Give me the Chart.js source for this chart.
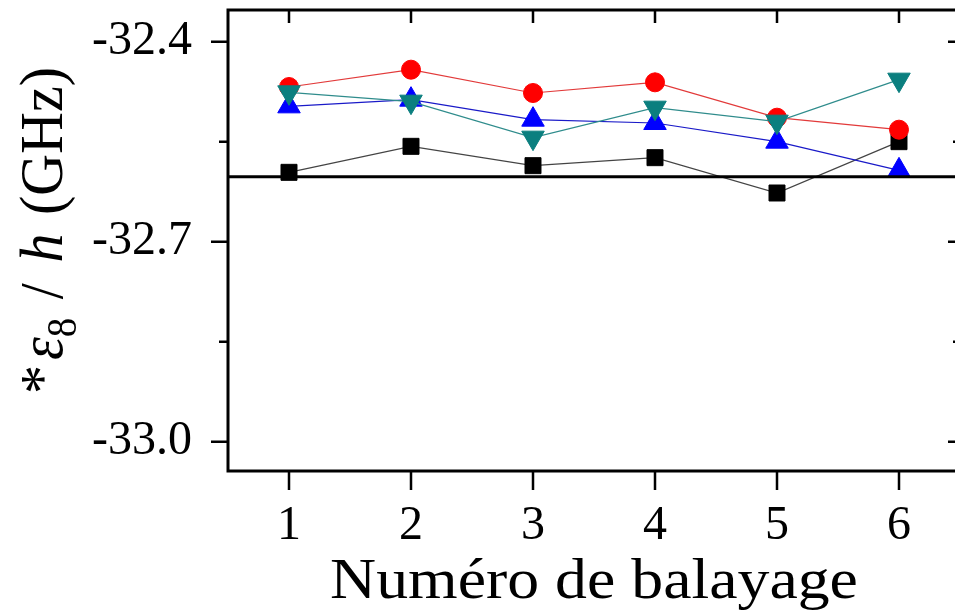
<!DOCTYPE html>
<html>
<head>
<meta charset="utf-8">
<script src="https://cdn.jsdelivr.net/npm/chart.js@4.4.1/dist/chart.umd.min.js"></script>
<style>
html, body { margin: 0; padding: 0; background: #fff; overflow: hidden; }
#wrap { position: relative; width: 970px; height: 614px; }
</style>
</head>
<body>
<div id="wrap"><canvas id="chart"></canvas></div>
<script>
// data
const scanNumbers = [1, 2, 3, 4, 5, 6];
const xTickLabels = ['1', '2', '3', '4', '5', '6'];
const seriesSquare = [-32.596, -32.557, -32.586, -32.574, -32.627, -32.550];
const seriesCircle = [-32.468, -32.442, -32.477, -32.461, -32.514, -32.532];
const seriesUp = [-32.497, -32.487, -32.517, -32.522, -32.550, -32.593];
const seriesDown = [-32.476, -32.490, -32.544, -32.499, -32.520, -32.457];
const refLevel = -32.6025;
const yMajorTicks = [-32.4, -32.7, -33.0];
const yMinorTicks = [-32.55, -32.85];
const xTitle = 'Numéro de balayage';
const yTitleParts = [['*', 'normal'], ['ε', 'italic'], ['8', 'sub'], [' / ', 'normal'], ['h', 'italic'], [' (GHz)', 'normal']];

const xMin = 0.5, xMax = 6.5;
const yMin = -33.044, yMax = -32.3525;
const FONT = '"Liberation Serif", "Times New Roman", serif';
// extra room after each piece of the y title
const yTitleGaps = [5, 0, 4, 6, 4, 0];

function toPoints(values) {
    return scanNumbers.map((x, i) => ({ x: x, y: values[i] }));
}

function serie(label, values, lineColor, markColor, style, radius, rot, order) {
    return {
        label: label,
        data: toPoints(values),
        borderColor: lineColor,
        borderWidth: 1.2,
        pointStyle: style,
        pointRadius: radius,
        pointRotation: rot,
        pointBackgroundColor: markColor,
        pointBorderColor: markColor,
        pointBorderWidth: 1,
        order: order
    };
}

// frame, inward / outward ticks and axis titles
const framePlugin = {
    id: 'frame',
    afterDraw(chart) {
        const ctx = chart.ctx;
        const a = chart.chartArea;
        const sx = chart.scales.x, sy = chart.scales.y;
        ctx.save();
        ctx.strokeStyle = '#000';
        ctx.lineWidth = 2.5;
        ctx.beginPath();
        scanNumbers.forEach(v => {
            const px = sx.getPixelForValue(v);
            ctx.moveTo(px, a.bottom); ctx.lineTo(px, a.bottom + 19);
            ctx.moveTo(px, a.top); ctx.lineTo(px, a.top + 13);
        });
        yMajorTicks.forEach(v => {
            const py = sy.getPixelForValue(v);
            ctx.moveTo(a.left - 17, py); ctx.lineTo(a.left, py);
            ctx.moveTo(a.right - 12, py); ctx.lineTo(a.right, py);
        });
        yMinorTicks.forEach(v => {
            const py = sy.getPixelForValue(v);
            ctx.moveTo(a.left - 9, py); ctx.lineTo(a.left, py);
            ctx.moveTo(a.right - 7, py); ctx.lineTo(a.right, py);
        });
        ctx.stroke();
        ctx.lineWidth = 3;
        ctx.strokeRect(a.left, a.top, a.right - a.left, a.bottom - a.top);

        ctx.fillStyle = '#000';
        ctx.textBaseline = 'alphabetic';
        // x title
        ctx.save();
        ctx.font = '58px ' + FONT;
        ctx.textAlign = 'center';
        ctx.translate((a.left + a.right) / 2, 598);
        ctx.scale(1.1, 1);
        ctx.fillText(xTitle, 0, 0);
        ctx.restore();

        // y title, rotated, with italic and subscript pieces
        const size = 58;
        const fontOf = (kind) => {
            if (kind === 'italic') return 'italic ' + size + 'px ' + FONT;
            if (kind === 'sub') return Math.round(size * 0.68) + 'px ' + FONT;
            return size + 'px ' + FONT;
        };
        ctx.save();
        ctx.translate(62, (a.top + a.bottom) / 2 - 10);
        ctx.rotate(-Math.PI / 2);
        ctx.scale(1, 1.06);
        ctx.textAlign = 'left';
        let total = 0;
        const widths = yTitleParts.map((p, i) => {
            ctx.font = fontOf(p[1]);
            const w = ctx.measureText(p[0]).width + yTitleGaps[i];
            total += w;
            return w;
        });
        let pos = -total / 2;
        yTitleParts.forEach((p, i) => {
            ctx.font = fontOf(p[1]);
            ctx.fillText(p[0], pos, p[1] === 'sub' ? size * 0.22 : 0);
            pos += widths[i];
        });
        ctx.restore();
        ctx.restore();
    }
};

const ctx = document.getElementById('chart');
new Chart(ctx, {
    type: 'line',
    data: {
        datasets: [
            { label: 'ref', data: [{ x: xMin, y: refLevel }, { x: xMax, y: refLevel }],
              borderColor: '#000', borderWidth: 3, pointRadius: 0, order: 0 },
            serie('down', seriesDown, '#2f8c8c', '#0b7f7f', 'triangle', 13, 180, 1),
            serie('up', seriesUp, '#1a1ac8', '#0000ff', 'triangle', 13, 0, 2),
            serie('circle', seriesCircle, '#e23a3a', '#ff0000', 'circle', 9.5, 0, 3),
            serie('square', seriesSquare, '#444444', '#000000', 'rect', 11.3, 0, 4)
        ]
    },
    options: {
        responsive: true,
        maintainAspectRatio: false,
        animation: false,
        layout: { autoPadding: false, padding: { left: 0, top: 10, right: 10, bottom: 0 } },
        plugins: { legend: { display: false }, tooltip: { enabled: false } },
        scales: {
            x: {
                type: 'linear',
                min: xMin,
                max: xMax,
                afterBuildTicks: (s) => { s.ticks = scanNumbers.map(v => ({ value: v })); },
                afterFit: (s) => {
                    s.height = 143;
                    s.paddingLeft = 0; s.paddingRight = 0; s.paddingTop = 0; s.paddingBottom = 0;
                },
                grid: { display: false, drawTicks: false },
                border: { display: false },
                ticks: {
                    font: { family: FONT, size: 48 },
                    color: '#000',
                    padding: 27,
                    maxRotation: 0,
                    callback: (v) => xTickLabels[scanNumbers.indexOf(v)]
                }
            },
            y: {
                min: yMin,
                max: yMax,
                afterBuildTicks: (s) => { s.ticks = yMajorTicks.map(v => ({ value: v })); },
                afterFit: (s) => {
                    s.width = 228;
                    s.paddingLeft = 0; s.paddingRight = 0; s.paddingTop = 0; s.paddingBottom = 0;
                },
                grid: { display: false, drawTicks: false },
                border: { display: false },
                ticks: {
                    font: { family: FONT, size: 48 },
                    color: '#000',
                    padding: 36,
                    callback: (v) => v.toFixed(1)
                }
            }
        }
    },
    plugins: [framePlugin]
});
</script>
</body>
</html>
